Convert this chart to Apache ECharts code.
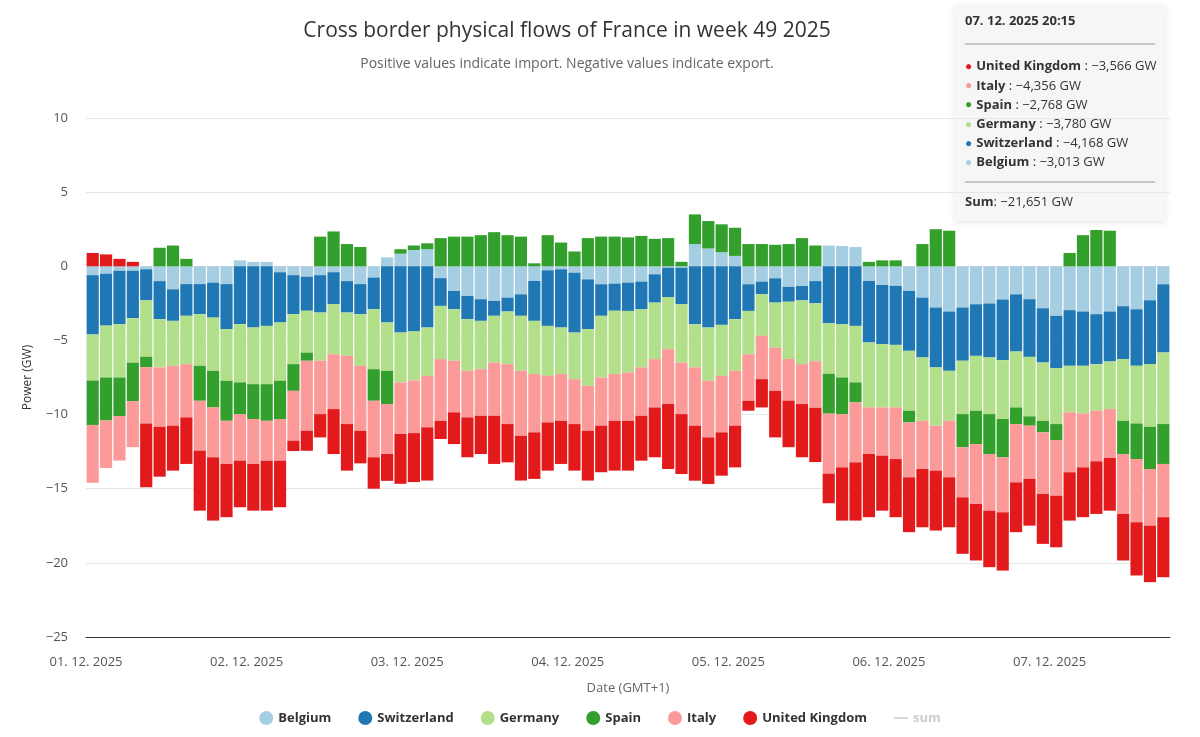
<!DOCTYPE html>
<html lang="en">
<head>
    <meta charset="UTF-8">
    <title>Cross border physical flows of France in week 49 2025</title>
    <script src="https://cdn.jsdelivr.net/npm/echarts@6/dist/echarts.min.js"></script>
    <style>
        html, body {margin: 0; padding: 0; background: #fff;}
    </style>
</head>
<body>
<div id="main" style="width: 1200px;height: 737px;"></div>

<script type="text/javascript">
    // two-hour slots from 01.12.2025 00:00 (GMT+1), values in GW
    var dayLabels = ['01. 12. 2025', '02. 12. 2025', '03. 12. 2025', '04. 12. 2025',
        '05. 12. 2025', '06. 12. 2025', '07. 12. 2025'];
    var slotHours = 2;

    var belgium = [-0.6, -0.5, -0.3, -0.3, -0.2, -1.0, -1.55, -1.2, -1.2, -1.1, -1.2, 0.4,
        0.3, 0.3, -0.4, -0.6, -0.7, -0.6, -0.4, -1.0, -1.2, -0.76, 0.6, 0.85,
        1.1, 1.15, -0.8, -1.66, -2.0, -2.22, -2.33, -2.11, -1.89, -0.99, -0.27, -0.2,
        -0.43, -0.88, -1.21, -1.17, -1.1, -1.03, -0.54, -0.1, -0.1, 1.5, 1.2, 0.95,
        0.7, -1.21, -1.03, -0.81, -1.39, -1.33, -1.0, 1.4, 1.37, 1.3, -0.99, -1.26,
        -1.32, -1.66, -2.11, -2.78, -3.05, -2.78, -2.56, -2.51, -2.24, -1.89, -2.22, -2.83,
        -3.34, -2.96, -3.05, -3.23, -3.05, -2.69, -2.9, -2.29, -1.21];
    var switzerland = [-4.0, -3.5, -3.6, -3.2, -2.1, -2.57, -2.13, -2.14, -2.03, -2.36, -3.04, -3.9,
        -4.13, -4.02, -3.39, -2.63, -2.3, -2.52, -2.16, -2.12, -2.03, -2.14, -3.79, -4.47,
        -4.4, -4.13, -1.87, -1.24, -1.57, -1.46, -1.01, -0.94, -1.45, -2.69, -3.75, -3.93,
        -4.04, -3.36, -2.13, -1.83, -1.91, -1.87, -1.91, -1.97, -2.46, -3.91, -4.13, -3.95,
        -3.57, -1.8, -0.86, -1.64, -1.0, -0.97, -1.5, -3.85, -3.91, -4.02, -4.15, -3.99,
        -3.98, -4.04, -4.04, -4.04, -4.0, -3.59, -3.48, -3.64, -4.09, -3.86, -3.89, -3.66,
        -3.53, -3.75, -3.66, -3.37, -3.37, -3.57, -3.81, -4.31, -4.6];
    var germany = [-3.1, -3.5, -3.6, -3.0, -3.8, -3.25, -3.03, -3.26, -3.48, -3.59, -3.48, -3.93,
        -3.82, -3.93, -3.93, -3.37, -2.82, -3.25, -3.37, -2.92, -3.48, -4.04, -3.26, -3.36,
        -3.3, -3.26, -3.59, -3.47, -3.48, -3.26, -3.15, -3.55, -3.71, -3.59, -3.37, -3.14,
        -3.14, -3.82, -4.16, -4.27, -4.15, -3.92, -3.81, -3.52, -3.93, -2.91, -3.59, -3.44,
        -3.48, -2.92, -2.8, -3.03, -3.86, -4.3, -3.9, -3.4, -3.59, -3.81, -4.38, -4.27,
        -4.22, -4.04, -4.27, -3.93, -3.37, -3.6, -3.7, -3.82, -3.97, -3.77, -4.01, -3.93,
        -3.77, -3.14, -3.21, -3.14, -3.21, -4.16, -3.89, -4.22, -4.83];
    var spain = [-3.0, -2.9, -2.6, -2.6, -0.7, 1.25, 1.4, 0.5, -2.36, -2.47, -2.7, -2.14,
        -2.35, -2.47, -2.58, -1.8, -0.55, 2.0, 2.35, 1.5, 1.3, -2.13, -2.24, 0.3,
        0.3, 0.4, 1.9, 2.0, 2.0, 2.1, 2.3, 2.1, 2.0, 0.2, 2.1, 1.6,
        1.0, 1.9, 2.0, 2.0, 1.95, 2.05, 1.85, 1.9, 0.3, 2.0, 1.85, 1.88,
        1.9, 1.5, 1.5, 1.45, 1.5, 1.9, 1.4, -2.69, -2.47, -1.35, 0.3, 0.4,
        0.4, -0.79, 1.5, 2.5, 2.4, -2.24, -2.25, -2.69, -2.58, -1.12, -0.63, -0.78,
        -1.08, 0.9, 2.1, 2.45, 2.4, -2.24, -2.4, -2.85, -2.69];
    var italy = [-3.9, -3.2, -3.0, -3.1, -3.8, -4.0, -4.04, -3.59, -3.36, -3.36, -2.91, -3.14,
        -3.03, -2.69, -2.81, -3.36, -4.72, -3.6, -3.7, -4.6, -4.38, -3.81, -3.37, -3.48,
        -3.55, -3.47, -4.16, -3.48, -3.14, -3.14, -3.59, -4.04, -4.38, -3.93, -3.14, -3.15,
        -3.03, -3.03, -3.25, -3.15, -3.26, -3.26, -3.26, -3.7, -3.48, -3.93, -3.82, -3.81,
        -3.7, -3.14, -2.92, -2.92, -2.81, -2.69, -3.14, -4.04, -3.59, -4.04, -3.14, -3.25,
        -3.48, -3.7, -3.25, -3.03, -3.81, -3.37, -4.04, -3.82, -3.71, -3.93, -3.59, -4.15,
        -3.75, -4.04, -3.64, -3.41, -3.3, -4.04, -4.26, -3.82, -3.59];
    var unitedKingdom = [0.9, 0.8, 0.5, 0.3, -4.3, -3.37, -3.03, -3.14, -4.05, -4.27, -3.59, -3.14,
        -3.15, -3.37, -3.14, -0.7, -1.35, -1.57, -3.03, -3.14, -2.2, -2.12, -1.81, -3.36,
        -3.3, -3.59, -1.23, -2.14, -2.69, -2.58, -3.25, -2.58, -3.02, -3.14, -3.25, -2.91,
        -3.14, -3.36, -3.14, -3.36, -3.36, -3.03, -3.36, -4.38, -4.04, -3.71, -3.14, -2.92,
        -2.81, -0.67, -1.91, -3.14, -3.14, -3.59, -3.66, -2.0, -3.59, -3.93, -4.26, -3.71,
        -3.92, -3.7, -3.93, -4.04, -3.37, -3.81, -3.81, -3.81, -3.93, -3.36, -3.15, -3.37,
        -3.48, -3.26, -3.36, -3.55, -3.55, -3.14, -3.59, -3.81, -4.05];

    // hover box as it appears in the screenshot
    var tipTime = '07. 12. 2025 20:15';
    var tipNames = ['United Kingdom', 'Italy', 'Spain', 'Germany', 'Switzerland', 'Belgium'];
    var tipValues = ['−3,566', '−4,356', '−2,768', '−3,780', '−4,168', '−3,013'];
    var tipSum = '−21,651';

    var colors = {
        'Belgium': '#a6cee3',
        'Switzerland': '#1f78b4',
        'Germany': '#b2df8a',
        'Spain': '#33a02c',
        'Italy': '#fb9a99',
        'United Kingdom': '#e31a1c'
    };

    // category for every slot, e.g. "01. 12. 2025 02:00"
    var slots = belgium.map(function (v, i) {
        var h = i * slotHours;
        var hh = h % 24;
        return dayLabels[Math.floor(h / 24)] + ' ' + (hh < 10 ? '0' : '') + hh + ':00';
    });

    var font = '"Open Sans", "Noto Sans", sans-serif';
    var myChart = echarts.init(document.getElementById('main'));

    var countries = [
        ['Belgium', belgium],
        ['Switzerland', switzerland],
        ['Germany', germany],
        ['Spain', spain],
        ['Italy', italy],
        ['United Kingdom', unitedKingdom]
    ];

    var series = countries.map(function (c) {
        return {
            name: c[0],
            type: 'bar',
            stack: 'flows',
            barCategoryGap: '9%',
            itemStyle: {color: colors[c[0]]},
            emphasis: {disabled: true},
            data: c[1]
        };
    });

    var sums = belgium.map(function (v, i) {
        return +(v + switzerland[i] + germany[i] + spain[i] + italy[i] + unitedKingdom[i]).toFixed(2);
    });
    series.push({
        name: 'sum',
        type: 'line',
        symbol: 'none',
        lineStyle: {color: '#444', width: 1.5},
        itemStyle: {color: '#444'},
        data: sums
    });

    // rich text for the hover box (zrender styles)
    var tipRich = {
        n: {fontFamily: font, fontSize: 13, fontWeight: 'bold', fill: '#333'},
        v: {fontFamily: font, fontSize: 13, fill: '#333'}
    };
    var tipLines = tipNames.map(function (name, i) {
        var key = 'd' + i;
        tipRich[key] = {fontSize: 12, fill: colors[name], padding: [0, 4, 0, 0]};
        return '{' + key + '|●}{n|' + name + '}{v| : ' + tipValues[i] + ' GW}';
    });

    var option = {
        backgroundColor: '#fff',
        animation: false,
        title: {
            text: 'Cross border physical flows of France in week 49 2025',
            subtext: 'Positive values indicate import. Negative values indicate export.',
            left: 562,
            top: 16,
            textAlign: 'center',
            itemGap: 15,
            textStyle: {fontFamily: font, fontSize: 21, fontWeight: 'normal', color: '#333'},
            subtextStyle: {fontFamily: font, fontSize: 14, color: '#666'}
        },
        legend: {
            bottom: 7,
            itemGap: 27,
            itemWidth: 14,
            itemHeight: 14,
            inactiveColor: '#ccc',
            textStyle: {fontFamily: font, fontSize: 13, fontWeight: 'bold', color: '#333'},
            selected: {'sum': false},
            data: [
                {name: 'Belgium', icon: 'circle'},
                {name: 'Switzerland', icon: 'circle'},
                {name: 'Germany', icon: 'circle'},
                {name: 'Spain', icon: 'circle'},
                {name: 'Italy', icon: 'circle'},
                {name: 'United Kingdom', icon: 'circle'},
                {name: 'sum', icon: 'path://M0,0L0.01,0M0,6h22v2.2h-22zM22,14L22.01,14'}
            ]
        },
        grid: {left: 86, right: 30, top: 118, bottom: 100},
        xAxis: [{
            // slots that carry the bars
            type: 'category',
            data: slots,
            position: 'bottom',
            axisLine: {show: true, onZero: false, lineStyle: {color: '#333', width: 1}},
            axisTick: {show: false},
            axisLabel: {show: false},
            splitLine: {show: false}
        }, {
            // hours since start, only for the day labels
            type: 'value',
            position: 'bottom',
            min: 0,
            max: slots.length * slotHours,
            interval: 24,
            name: 'Date (GMT+1)',
            nameLocation: 'middle',
            nameGap: 45,
            nameTextStyle: {fontFamily: font, fontSize: 13, color: '#666'},
            axisLine: {show: false},
            axisTick: {show: false},
            splitLine: {show: false},
            axisLabel: {
                fontFamily: font, fontSize: 13, color: '#555', margin: 19,
                showMaxLabel: false,
                formatter: function (v) {
                    return v % 24 === 0 ? (dayLabels[v / 24] || '') : '';
                }
            }
        }],
        yAxis: {
            type: 'value',
            min: -25,
            max: 10,
            interval: 5,
            name: 'Power (GW)',
            nameLocation: 'middle',
            nameGap: 52,
            nameTextStyle: {fontFamily: font, fontSize: 12, color: '#333'},
            axisLine: {show: false},
            axisTick: {show: false},
            splitLine: {lineStyle: {color: '#e6e6e6'}},
            axisLabel: {
                fontFamily: font, fontSize: 13, color: '#555', margin: 18,
                formatter: function (v) {
                    return v < 0 ? '−' + Math.abs(v) : String(v);
                }
            }
        },
        graphic: [{
            type: 'group',
            left: 955,
            top: 5,
            z: 100,
            children: [
                {
                    type: 'rect',
                    shape: {x: 0, y: 0, width: 210, height: 216},
                    style: {
                        fill: 'rgba(247,247,247,0.94)',
                        shadowBlur: 6, shadowColor: 'rgba(0,0,0,0.12)', shadowOffsetY: 1
                    }
                },
                {
                    type: 'text',
                    x: 10, y: 10,
                    style: {text: tipTime, font: 'bold 13px ' + font, fill: '#333'}
                },
                {
                    type: 'line',
                    shape: {x1: 10, y1: 39, x2: 200, y2: 39},
                    style: {stroke: '#999', lineWidth: 1}
                },
                {
                    type: 'text',
                    x: 10, y: 52,
                    style: {text: tipLines.join('\n'), rich: tipRich, lineHeight: 19.2}
                },
                {
                    type: 'line',
                    shape: {x1: 10, y1: 177, x2: 200, y2: 177},
                    style: {stroke: '#999', lineWidth: 1}
                },
                {
                    type: 'text',
                    x: 10, y: 191,
                    style: {
                        text: '{n|Sum}{v|: ' + tipSum + ' GW}',
                        rich: tipRich
                    }
                }
            ]
        }],
        series: series
    };

    myChart.setOption(option);
</script>
</body>
</html>
